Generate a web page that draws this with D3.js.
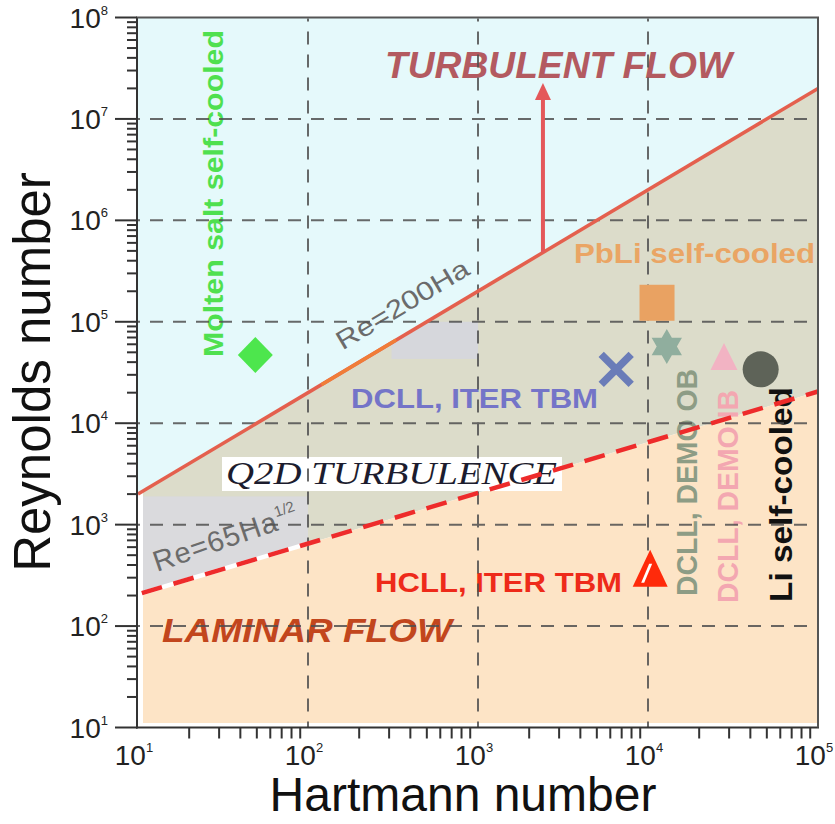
<!DOCTYPE html>
<html><head><meta charset="utf-8">
<script src="https://cdn.jsdelivr.net/npm/d3@7"></script>
<style>html,body{margin:0;padding:0;background:#fff}svg{display:block}</style>
</head><body><svg id="c" width="835" height="824"></svg>
<script>
// ---------- data ----------
const haDomain = [10, 1e5];
const reDomain = [10, 1e8];
const xTickExponents = [1, 2, 3, 4, 5];
const yTickExponents = [1, 2, 3, 4, 5, 6, 7, 8];
const gridHa = [1e2, 1e3, 1e4];
const gridRe = [1e2, 1e3, 1e4, 1e5, 1e6, 1e7];
const turbulentCoef = 200;   // Re = 200 Ha
const q2dCoef = 65;          // Re = 65 Ha^(1/2)
const boundaryHa = [10, 1e5];
const whiteGapHa = [10, 100];
const orangeSegmentHa = [120, 330];
const arrowHa = [2410];
const arrowTopRe = [2.26e7];
const blanketNames = ["Molten salt self-cooled", "PbLi self-cooled", "DCLL, ITER TBM", "DCLL, DEMO OB", "DCLL, DEMO IB", "Li self-cooled", "HCLL, ITER TBM"];
const blanketHa = [49, 11300, 6500, 12900, 28000, 46000, 10300];
const blanketRe = [47000, 154000, 34000, 57000, 41000, 34000, 320];
const blanketShapes = ["diamond", "square", "cross", "star6", "triangle", "circle", "deltaRed"];
const blanketColors = ["#4de64d", "#e9a262", "#6a7cb8", "#90ae9e", "#f2b3c3", "#5e6358", "#ff2a0a"];

// ---------- setup ----------
const svg = d3.select("#c");
const x = d3.scaleLog().domain(haDomain).range([138, 818]);
const y = d3.scaleLog().domain(reDomain).range([727.5, 17.5]);
const turbRe = h => turbulentCoef * h;
const q2dRe = h => q2dCoef * Math.sqrt(h);
const SANS = "'Liberation Sans', Arial, sans-serif";
const SERIF = "'Liberation Serif', 'Times New Roman', serif";

const defs = svg.append("defs");
defs.append("clipPath").attr("id", "lowClip").append("rect")
  .attr("x", 143).attr("y", 17).attr("width", 676).attr("height", 706);
const q2dPts = [
  [x(boundaryHa[0]), y(turbRe(boundaryHa[0]))],
  [x(boundaryHa[1]), y(turbRe(boundaryHa[1]))],
  [x(boundaryHa[1]), y(q2dRe(boundaryHa[1]))],
  [x(boundaryHa[0]), y(q2dRe(boundaryHa[0]))]
];
defs.append("clipPath").attr("id", "q2dClip").append("polygon")
  .attr("points", q2dPts.map(p => p.join(",")).join(" "));

// ---------- regions ----------
svg.append("polygon").attr("fill", "#e5f9fb")
  .attr("points", [
    [x(haDomain[0]), y(reDomain[1])], [x(haDomain[1]), y(reDomain[1])],
    [x(haDomain[1]), y(turbRe(haDomain[1]))], [x(haDomain[0]), y(turbRe(haDomain[0]))]
  ].map(p => p.join(",")).join(" "));
const low = svg.append("g").attr("clip-path", "url(#lowClip)");
low.append("polygon").attr("fill", "#dcdcca")
  .attr("points", q2dPts.map(p => p.join(",")).join(" "));
low.append("polygon").attr("fill", "#fde4c6")
  .attr("points", [
    [x(boundaryHa[0]), y(q2dRe(boundaryHa[0]))], [x(boundaryHa[1]), y(q2dRe(boundaryHa[1]))],
    [x(boundaryHa[1]), y(reDomain[0])], [x(boundaryHa[0]), y(reDomain[0])]
  ].map(p => p.join(",")).join(" "));
// label remnant boxes (grey) inside Q2D zone
const q2g = low.append("g").attr("clip-path", "url(#q2dClip)");
q2g.append("rect").attr("fill", "#d6d7dc")
  .attr("x", x(310)).attr("y", y(1e5)).attr("width", x(1000) - x(310)).attr("height", y(4.3e4) - y(1e5));
q2g.append("rect").attr("fill", "#dadadd")
  .attr("x", x(10)).attr("y", y(1900)).attr("width", x(100) - x(10)).attr("height", y(150) - y(1900));

// ---------- Q2D label box ----------
svg.append("rect").attr("x", 222).attr("y", 457).attr("width", 340).attr("height", 34).attr("fill", "#ffffff");
svg.append("text").attr("x", 226).attr("y", 484).attr("font-family", SERIF).attr("font-style", "italic")
  .attr("font-size", 32).attr("fill", "#1c1c2e").attr("textLength", 331).attr("lengthAdjust", "spacingAndGlyphs")
  .text("Q2D TURBULENCE");

// ---------- text annotations ----------
function label(txt, px, py, opts) {
  const t = svg.append("text").attr("font-family", opts.serif ? SERIF : SANS)
    .attr("font-size", opts.size).attr("fill", opts.color)
    .attr("font-weight", opts.bold ? "bold" : "normal")
    .attr("font-style", opts.italic ? "italic" : "normal")
    .attr("transform", `translate(${px},${py}) rotate(${opts.rot || 0})`)
    .attr("text-anchor", opts.anchor || "start");
  if (opts.len) t.attr("textLength", opts.len).attr("lengthAdjust", "spacingAndGlyphs");
  t.text(txt);
  return t;
}
label("TURBULENT FLOW", 385, 78, {size: 36, bold: true, italic: true, color: "#b35a60", len: 347});
label("LAMINAR FLOW", 162, 642, {size: 34, bold: true, italic: true, color: "#c2461d", len: 290});
label(blanketNames[0], 223, 357, {size: 28, bold: true, color: "#4fe04f", rot: -90, len: 327});
label(blanketNames[1], 574, 263, {size: 28, bold: true, color: "#eaa564", len: 241});
label(blanketNames[2], 351, 408, {size: 28, bold: true, color: "#7474c8", len: 247});
label(blanketNames[6], 375, 592, {size: 28, bold: true, color: "#ee2a1a", len: 247});
label(blanketNames[3], 697, 596, {size: 29, bold: true, color: "#8d9c85", rot: -90, len: 227});
label(blanketNames[4], 738, 603, {size: 29, bold: true, color: "#f3a7b1", rot: -90, len: 213});
label(blanketNames[5], 792, 602, {size: 31, bold: true, color: "#111111", rot: -90, len: 215});
// rotated formula labels
const ang200 = Math.atan((y(turbRe(1e3)) - y(turbRe(1e4))) / (x(1e4) - x(1e3))) * 180 / Math.PI;
label("Re=200Ha", 407, 312, {size: 26, color: "#6b6b6b", rot: -ang200, anchor: "middle", len: 150});
const t65 = svg.append("text").attr("font-family", SANS).attr("font-size", 29).attr("fill", "#6b6b6b")
  .attr("transform", "translate(157,572) rotate(-19)");
t65.append("tspan").attr("letter-spacing", 1).text("Re=65Ha");
t65.append("tspan").attr("font-size", 15).attr("dy", -13).text("1/2");

// ---------- grid ----------
const grid = svg.append("g").attr("stroke", "#505050").attr("stroke-width", 2)
  .attr("stroke-dasharray", "13,10").attr("opacity", 0.85);
grid.selectAll("line.v").data(gridHa).join("line")
  .attr("x1", d => x(d)).attr("x2", d => x(d)).attr("y1", y(reDomain[1]) + 1).attr("y2", y(reDomain[0]))
  .attr("stroke-dashoffset", 10);
grid.selectAll("line.h").data(gridRe).join("line")
  .attr("x1", x(haDomain[0])).attr("x2", x(haDomain[1])).attr("y1", d => y(d)).attr("y2", d => y(d))
  .attr("stroke-dashoffset", 11);

// ---------- boundary lines ----------
const lineGen = d3.line().x(d => x(d[0])).y(d => y(d[1]));
svg.append("path").attr("d", lineGen(boundaryHa.map(h => [h, turbRe(h)])))
  .attr("stroke", "#e4604e").attr("stroke-width", 3.5).attr("fill", "none");
svg.append("path").attr("d", lineGen(orangeSegmentHa.map(h => [h, turbRe(h)])))
  .attr("stroke", "#f07d38").attr("stroke-width", 3.5).attr("fill", "none");
svg.append("path").attr("d", lineGen(whiteGapHa.map(h => [h, q2dRe(h)])))
  .attr("stroke", "#ffffff").attr("stroke-width", 4.5).attr("fill", "none");
svg.append("path").attr("d", lineGen(boundaryHa.map(h => [h, q2dRe(h)])))
  .attr("stroke", "#ee2b2b").attr("stroke-width", 4.5).attr("fill", "none")
  .attr("stroke-dasharray", "21,12").attr("stroke-dashoffset", -4);

// ---------- arrow ----------
const ax = x(arrowHa[0]), ayBot = y(turbRe(arrowHa[0])), ayTop = y(arrowTopRe[0]);
svg.append("line").attr("x1", ax).attr("x2", ax).attr("y1", ayBot).attr("y2", ayTop + 14)
  .attr("stroke", "#e4585a").attr("stroke-width", 4);
svg.append("path").attr("d", `M${ax},${ayTop} L${ax - 8},${ayTop + 17} L${ax + 8},${ayTop + 17} Z`)
  .attr("fill", "#e4585a");

// ---------- markers ----------
function star6(R) {
  const pts = [];
  for (let i = 0; i < 12; i++) {
    const a = (-90 + i * 30) * Math.PI / 180;
    const r = i % 2 === 0 ? R : R / Math.sqrt(3);
    pts.push([r * Math.cos(a), r * Math.sin(a)]);
  }
  return "M" + pts.map(p => p.join(",")).join("L") + "Z";
}
const mk = svg.append("g");
blanketNames.forEach((n, i) => {
  const g = mk.append("g").attr("transform", `translate(${x(blanketHa[i])},${y(blanketRe[i])})`);
  const c = blanketColors[i];
  switch (blanketShapes[i]) {
    case "diamond": g.append("path").attr("d", "M0,-18L17.5,0L0,18L-17.5,0Z").attr("fill", c); break;
    case "square": g.append("rect").attr("x", -17.5).attr("y", -18).attr("width", 35).attr("height", 36).attr("fill", c); break;
    case "cross": g.append("path").attr("d", "M-15,-15L15,15M-15,15L15,-15").attr("stroke", c).attr("stroke-width", 7.5); break;
    case "star6": g.append("path").attr("d", star6(17.5)).attr("fill", c); break;
    case "triangle": g.append("path").attr("d", "M0,-18L13.5,9L-13.5,9Z").attr("fill", c); break;
    case "circle": g.append("circle").attr("r", 18).attr("fill", c); break;
    case "deltaRed":
      g.append("path").attr("d", "M0,-25L17.5,12L-17.5,12Z").attr("fill", c);
      g.append("path").attr("d", "M-1,-11L2,-11L-6,8L-9,8Z").attr("fill", "#ffffff");
      break;
  }
});

// ---------- axes & frame ----------
const ax0 = svg.append("g").attr("stroke", "#333").attr("stroke-width", 2);
ax0.append("line").attr("x1", 137).attr("x2", 137).attr("y1", y(reDomain[1])).attr("y2", y(reDomain[0]) + 1);
ax0.append("line").attr("x1", 136).attr("x2", x(haDomain[1]) + 1).attr("y1", y(reDomain[0])).attr("y2", y(reDomain[0]));
ax0.append("line").attr("x1", 136).attr("x2", x(haDomain[1]) + 1).attr("y1", y(reDomain[1])).attr("y2", y(reDomain[1])).attr("stroke", "#555");
ax0.append("line").attr("x1", x(haDomain[1])).attr("x2", x(haDomain[1])).attr("y1", y(reDomain[1])).attr("y2", y(reDomain[0])).attr("stroke", "#555");
// y ticks
const yMajor = yTickExponents.map(e => Math.pow(10, e));
const yMinor = [];
yTickExponents.slice(0, -1).forEach(e => { for (let k = 2; k <= 9; k++) yMinor.push(k * Math.pow(10, e)); });
ax0.selectAll("line.ym").data(yMajor).join("line")
  .attr("x1", 115).attr("x2", 137).attr("y1", d => y(d)).attr("y2", d => y(d));
ax0.selectAll("line.yn").data(yMinor).join("line")
  .attr("x1", 127).attr("x2", 137).attr("y1", d => y(d)).attr("y2", d => y(d));
// x ticks
const xMinor = [];
xTickExponents.slice(0, -1).forEach(e => { for (let k = 2; k <= 9; k++) xMinor.push(k * Math.pow(10, e)); });
ax0.selectAll("line.xn").data(xMinor).join("line")
  .attr("x1", d => x(d)).attr("x2", d => x(d)).attr("y1", y(reDomain[0])).attr("y2", y(reDomain[0]) + 11);

// tick labels
yTickExponents.forEach(e => {
  const t = svg.append("text").attr("font-family", SANS).attr("fill", "#222")
    .attr("x", 108).attr("y", y(Math.pow(10, e)) + 10).attr("text-anchor", "end");
  t.append("tspan").attr("font-size", 28).text("10");
  t.append("tspan").attr("font-size", 13).attr("dy", -13).text(e);
});
xTickExponents.forEach(e => {
  const t = svg.append("text").attr("font-family", SANS).attr("fill", "#222")
    .attr("x", x(Math.pow(10, e)) - 4).attr("y", 765).attr("text-anchor", "middle");
  t.append("tspan").attr("font-size", 28).text("10");
  t.append("tspan").attr("font-size", 13).attr("dy", -13).text(e);
});

// axis titles
svg.append("text").attr("font-family", SANS).attr("font-size", 48).attr("fill", "#111")
  .attr("x", 463).attr("y", 811).attr("text-anchor", "middle").text("Hartmann number");
svg.append("text").attr("font-family", SANS).attr("font-size", 51).attr("fill", "#111")
  .attr("transform", "translate(50,372) rotate(-90)").attr("text-anchor", "middle").text("Reynolds number");
</script></body></html>
